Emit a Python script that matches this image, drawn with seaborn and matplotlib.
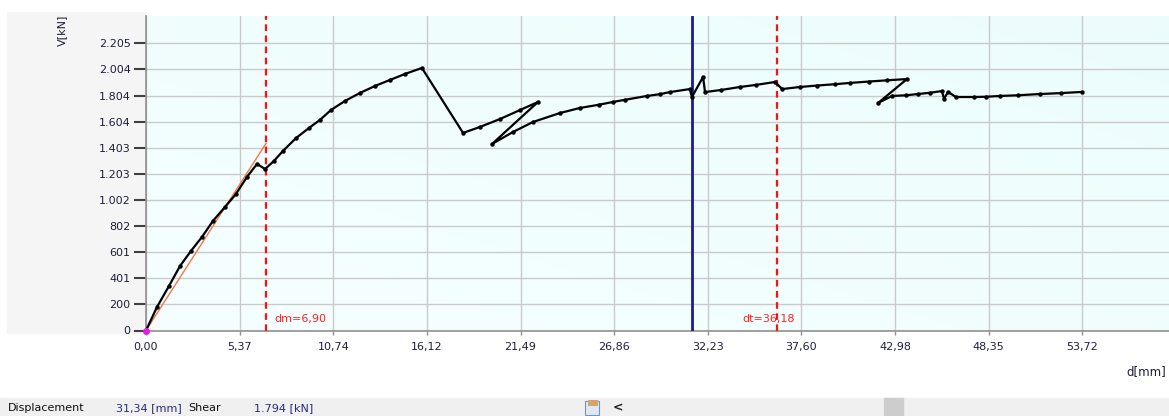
import numpy as np
import pandas as pd
import matplotlib
matplotlib.use("Agg")
import matplotlib.pyplot as plt
from matplotlib.patches import Rectangle
import seaborn as sns

# ---- data ----
disp = [0.00, 0.63, 1.32, 1.95, 2.58, 3.21, 3.84, 4.53, 5.16, 5.79, 6.37, 6.83,
        7.34, 7.86, 8.61, 9.35, 9.98, 10.61, 11.42, 12.28, 13.14, 14.00, 14.86, 15.83,
        18.19, 19.16, 20.31, 21.46, 22.49,
        19.85, 21.05, 22.20, 23.75, 24.90, 26.00, 26.79, 27.50, 28.74, 29.50, 30.06, 31.20,
        31.32, 31.96, 32.07, 33.00, 34.08, 35.00, 36.08,
        36.50, 37.52, 38.50, 39.50, 40.39, 41.50, 42.50, 43.66,
        42.00, 42.80, 43.60, 44.30, 45.00, 45.67, 45.78, 46.01, 46.47, 47.50, 48.20,
        49.00, 50.00, 51.30, 52.50, 53.70]
shear = [0, 180, 342, 495, 611, 718, 841, 948, 1048, 1179, 1279, 1240,
         1302, 1379, 1478, 1555, 1617, 1693, 1763, 1824, 1878, 1924, 1970, 2016,
         1517, 1563, 1624, 1693, 1755,
         1432, 1524, 1601, 1670, 1709, 1734, 1755, 1772, 1801, 1815, 1831, 1854,
         1793, 1947, 1831, 1847, 1870, 1886, 1908,
         1854, 1870, 1881, 1891, 1901, 1912, 1921, 1931,
         1747, 1801, 1806, 1816, 1826, 1839, 1778, 1832, 1793, 1793, 1795,
         1801, 1806, 1816, 1823, 1832]

elastic_x = [0.0, 6.90]
elastic_y = [0, 1440]
dm_value = 6.90
dt_value = 36.18
cursor_x = 31.34

xtick_vals = [0.0, 5.372, 10.744, 16.116, 21.488, 26.86, 32.232, 37.604, 42.976, 48.348, 53.72]
xtick_labels = ["0,00", "5,37", "10,74", "16,12", "21,49", "26,86", "32,23", "37,60",
                "42,98", "48,35", "53,72"]
ytick_vals = [0, 200.45, 400.9, 601.35, 801.8, 1002.25, 1202.7, 1403.15, 1603.6,
              1804.05, 2004.5, 2204.95]
ytick_labels = ["0", "200", "401", "601", "802", "1.002", "1.203", "1.403", "1.604",
                "1.804", "2.004", "2.205"]

W, H = 1169, 416
fig = plt.figure(figsize=(W / 100, H / 100), dpi=100)
fig.patch.set_facecolor("white")
sns.set_style("white")
plt.rcParams['font.family'] = ['DejaVu Sans']

# grey left panel and status bar (behind the axes)
fig.patches.append(Rectangle((7 / W, 1 - 333 / H), (146 - 7) / W, (333 - 12) / H,
                             transform=fig.transFigure, color="#F5F5F5", zorder=-5))
fig.patches.append(Rectangle((0, 0), 1, 18 / H, transform=fig.transFigure,
                             color="#F0F0F0", zorder=-5))
fig.patches.append(Rectangle((884 / W, 0), 19 / W, 18 / H, transform=fig.transFigure,
                             color="#CDCDCD", zorder=-4))
fig.patches.append(Rectangle((585 / W, 1 / H), 14 / W, 14 / H, transform=fig.transFigure,
                             facecolor="#DDE8F4", edgecolor="#7A93B8", lw=0.8, zorder=-4))
fig.patches.append(Rectangle((588 / W, 10 / H), 10 / W, 6 / H, transform=fig.transFigure,
                             facecolor="#D9A46A", edgecolor="none", zorder=-3))

ax = fig.add_axes([146 / W, 1 - 330.5 / H, (W - 146) / W, (330.5 - 16) / H])
ax.set_zorder(2)

# gradient background
grad = np.linspace(0, 1, 256)
gx, gy = np.meshgrid(grad, grad)
g = 0.5 * gx + 0.5 * (1 - gy)
c0 = np.array([0.965, 1.0, 1.0])
c1 = np.array([0.925, 0.99, 0.99])
img = c0[None, None, :] * (1 - g[..., None]) + c1[None, None, :] * g[..., None]
ax.imshow(img, extent=[0, 1, 0, 1], transform=ax.transAxes, aspect="auto",
          zorder=0, origin="upper")

ax.set_xticks(xtick_vals)
ax.set_xticklabels(xtick_labels)
ax.set_yticks(ytick_vals)
ax.set_yticklabels(ytick_labels)
ax.grid(True, color="#CACACA", lw=1.0)
ax.set_axisbelow(True)

df = pd.DataFrame({"d": disp, "V": shear})
sns.lineplot(data=df, x="d", y="V", sort=False, estimator=None, color="black",
             lw=1.6, marker="o", markersize=3.2, markeredgewidth=0, ax=ax, zorder=5)
sns.lineplot(x=elastic_x, y=elastic_y, sort=False, estimator=None, color="#F0784A",
             lw=1.0, ax=ax, zorder=4)
ax.plot([0], [0], "o", color="#E020E0", ms=4, zorder=6, clip_on=False)

ax.axvline(dm_value, color="#FF1010", ls=(0, (3, 2)), lw=1.6, zorder=4)
ax.axvline(dt_value, color="#FF1010", ls=(0, (3, 2)), lw=1.6, zorder=4)
ax.axvline(cursor_x, color="#1A1A9A", lw=2.0, zorder=4)
ax.text(dm_value + 0.45, 85, "dm=6,90", color="#FF2020", fontsize=8, va="center", ha="left")
ax.text(dt_value - 1.95, 85, "dt=36,18", color="#FF2020", fontsize=8, va="center", ha="left")

ax.set_xlim(0, 58.69)
ax.set_ylim(0, 2415)
ax.set_xlabel("")
ax.set_ylabel("")
for s in ["top", "right"]:
    ax.spines[s].set_visible(False)
for s in ["left", "bottom"]:
    ax.spines[s].set_color("#909090")
    ax.spines[s].set_linewidth(1.2)
ax.tick_params(axis="y", length=9, width=1.5, color="#404040", labelsize=8,
               labelcolor="#1E1E3C", pad=2, direction="out", left=True)
ax.tick_params(axis="x", length=3, width=1, color="#909090", labelsize=8,
               labelcolor="#1E1E3C", pad=5, direction="out", bottom=True)

fig.text(62 / W, 1 - 30 / H, "V[kN]", rotation=90, ha="center", va="center",
         fontsize=8, color="#1E1E3C")
fig.text(1166 / W, 1 - 372 / H, "d[mm]", ha="right", va="center", fontsize=8.5,
         color="#1E1E3C")

fig.text(8 / W, 8 / H, "Displacement", fontsize=8, va="center", color="#101010")
fig.text(116 / W, 8 / H, "31,34 [mm]", fontsize=8, va="center", color="#2A2A7A")
fig.text(188 / W, 8 / H, "Shear", fontsize=8, va="center", color="#101010")
fig.text(254 / W, 8 / H, "1.794 [kN]", fontsize=8, va="center", color="#2A2A7A")
fig.text(613 / W, 8 / H, "<", fontsize=9, va="center", color="#202020", fontweight="bold")

fig.savefig("out.png", dpi=100)
